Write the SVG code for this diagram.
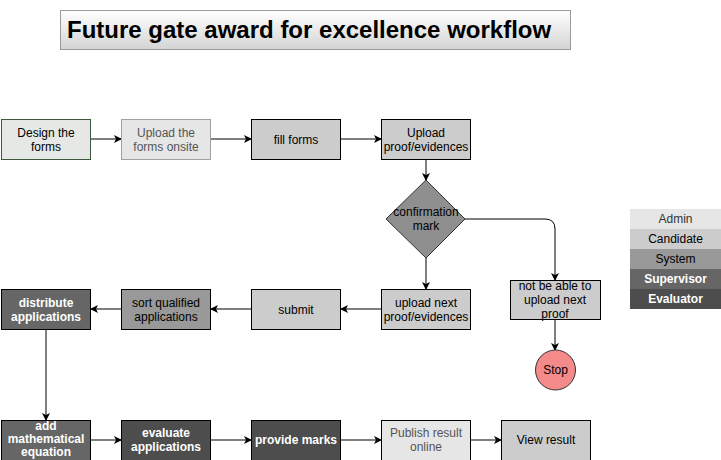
<svg xmlns="http://www.w3.org/2000/svg" width="721" height="460" viewBox="0 0 721 460">
<defs>
<linearGradient id="tg" x1="0" y1="0" x2="0" y2="1"><stop offset="0" stop-color="#ffffff"/><stop offset="1" stop-color="#d4d4d4"/></linearGradient>
<marker id="ah" markerWidth="10" markerHeight="10" refX="8" refY="5" orient="auto" markerUnits="userSpaceOnUse"><path d="M1,1 L9,5 L1,9 L3,5 Z" fill="#000"/></marker>
<style>
text{font-family:"Liberation Sans",Arial,sans-serif;font-size:12px;text-anchor:middle}
.b{stroke:#000;stroke-width:1}
.admin{fill:#e6e6e6}
.cand{fill:#cccccc}
.sys{fill:#999999}
.sup{fill:#666666}
.eval{fill:#4d4d4d}
.tw{fill:#ffffff}
.twb{fill:#ffffff;font-weight:bold}
.tg{fill:#555555}
.c{fill:none;stroke:#000;stroke-width:1;marker-end:url(#ah)}
</style>
</defs>
<rect width="721" height="460" fill="#ffffff"/>
<g id="title"><rect x="60.5" y="10.5" width="510" height="39" fill="url(#tg)" stroke="#9a9a9a"/><text x="67" y="38" style="font-size:24px;font-weight:bold;text-anchor:start" fill="#000">Future gate award for excellence workflow</text></g>
<g id="connectors">
<path class="c" d="M91,139 H121"/>
<path class="c" d="M211,139 H251"/>
<path class="c" d="M341,139 H381"/>
<path class="c" d="M426,159 V180"/>
<path class="c" d="M426,258 V289"/>
<path class="c" d="M465,219 H545 Q555,219 555,229 V280"/>
<path class="c" d="M555,320 V350"/>
<path class="c" d="M381,309 H341"/>
<path class="c" d="M251,309 H211"/>
<path class="c" d="M121,309 H91"/>
<path class="c" d="M46,329 V420"/>
<path class="c" d="M91,440 H121"/>
<path class="c" d="M211,440 H251"/>
<path class="c" d="M341,440 H381"/>
<path class="c" d="M471,440 H501"/>
</g>
<g id="n1"><rect x="1.5" y="119.5" width="89" height="40" fill="#e6e8e6" stroke="#3d5a3d"/><text x="46" y="137">Design the</text><text x="46" y="151">forms</text></g>
<g id="n2"><rect x="121.5" y="119.5" width="89" height="40" class="admin" stroke="#a0a0a0"/><text x="166" y="137" class="tg">Upload the</text><text x="166" y="151" class="tg">forms onsite</text></g>
<g id="n3"><rect x="251.5" y="119.5" width="89" height="40" class="cand b"/><text x="296" y="144">fill forms</text></g>
<g id="n4"><rect x="381.5" y="119.5" width="89" height="40" class="cand b"/><text x="426" y="137">Upload</text><text x="426" y="151">proof/evidences</text></g>
<g id="n5"><path d="M426,180 L465,219 L426,258 L386,219 Z" fill="#8f8f8f" stroke="#333"/><text x="426" y="216">confirmation</text><text x="426" y="230">mark</text></g>
<g id="n6"><rect x="381.5" y="289.5" width="89" height="40" class="cand b"/><text x="426" y="307">upload next</text><text x="426" y="321">proof/evidences</text></g>
<g id="n7"><rect x="510.5" y="280.5" width="90" height="39" class="cand b"/><text x="555" y="290">not be able to</text><text x="555" y="304">upload next</text><text x="555" y="318">proof</text></g>
<g id="n8"><circle cx="555.5" cy="370" r="20" fill="#f48a8a" stroke="#333"/><text x="555.5" y="374">Stop</text></g>
<g id="n9"><rect x="251.5" y="289.5" width="89" height="40" class="cand b"/><text x="296" y="314">submit</text></g>
<g id="n10"><rect x="121.5" y="289.5" width="89" height="40" class="sys b"/><text x="166" y="307">sort qualified</text><text x="166" y="321">applications</text></g>
<g id="n11"><rect x="1.5" y="289.5" width="89" height="40" class="sup b"/><text x="46" y="307" class="twb">distribute</text><text x="46" y="321" class="twb">applications</text></g>
<g id="n12"><rect x="1.5" y="420.5" width="89" height="40" class="sup b"/><text x="46" y="430" class="twb">add</text><text x="46" y="443" class="twb">mathematical</text><text x="46" y="456" class="twb">equation</text></g>
<g id="n13"><rect x="121.5" y="420.5" width="89" height="40" class="eval b"/><text x="166" y="437" class="twb">evaluate</text><text x="166" y="451" class="twb">applications</text></g>
<g id="n14"><rect x="251.5" y="420.5" width="89" height="40" class="eval b"/><text x="296" y="444" class="twb">provide marks</text></g>
<g id="n15"><rect x="381.5" y="420.5" width="89" height="40" class="admin" stroke="#000"/><text x="426" y="437" class="tg">Publish result</text><text x="426" y="451" class="tg">online</text></g>
<g id="n16"><rect x="501.5" y="420.5" width="89" height="40" class="cand b"/><text x="546" y="444">View result</text></g>
<g id="legend">
<rect x="630" y="209" width="91" height="20" class="admin"/><text x="675.5" y="223" fill="#333">Admin</text>
<rect x="630" y="229" width="91" height="20" class="cand"/><text x="675.5" y="243">Candidate</text>
<rect x="630" y="249" width="91" height="20" class="sys"/><text x="675.5" y="263">System</text>
<rect x="630" y="269" width="91" height="20" class="sup"/><text x="675.5" y="283" class="twb">Supervisor</text>
<rect x="630" y="289" width="91" height="20" class="eval"/><text x="675.5" y="303" class="twb">Evaluator</text>
</g>
</svg>
